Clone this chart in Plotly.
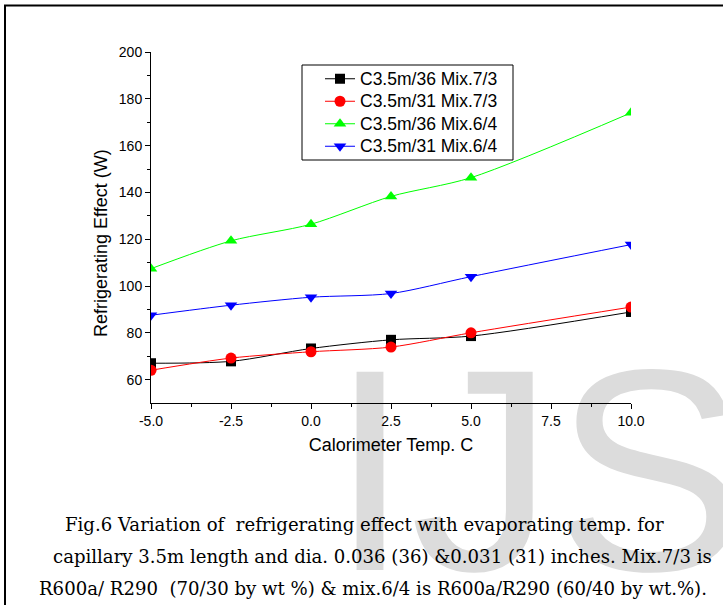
import plotly.graph_objects as go

# ---------------- data ----------------
temps = [-5.0, -2.5, 0.0, 2.5, 5.0, 10.0]
re_36_mix73 = [67.0, 67.8, 73.3, 77.0, 78.6, 88.9]
re_31_mix73 = [64.0, 69.2, 71.9, 73.9, 80.0, 91.0]
re_36_mix64 = [107.4, 119.3, 126.4, 138.3, 146.3, 174.0]
re_31_mix64 = [87.5, 91.8, 95.2, 96.8, 104.0, 117.7]

series_names = ["C3.5m/36 Mix.7/3", "C3.5m/31 Mix.7/3", "C3.5m/36 Mix.6/4", "C3.5m/31 Mix.6/4"]
series_values = [re_36_mix73, re_31_mix73, re_36_mix64, re_31_mix64]
series_colors = ["#000000", "#ff0000", "#00ff00", "#0000ff"]
series_symbols = ["square", "circle", "triangle-up", "triangle-down"]
series_marker_sizes = [10, 11, 11, 11]

x_tick_vals = [-5.0, -2.5, 0.0, 2.5, 5.0, 7.5, 10.0]
x_tick_labels = ["-5.0", "-2.5", "0.0", "2.5", "5.0", "7.5", "10.0"]
x_minor_vals = [-3.75, -1.25, 1.25, 3.75, 6.25, 8.75]
y_tick_vals = [60, 80, 100, 120, 140, 160, 180, 200]
y_tick_labels = ["60", "80", "100", "120", "140", "160", "180", "200"]
y_minor_vals = [70, 90, 110, 130, 150, 170, 190]

x_title = "Calorimeter Temp. C"
y_title = "Refrigerating Effect (W)"
caption_lines = [
    "Fig.6 Variation of \u00a0refrigerating effect with evaporating temp. for",
    "capillary 3.5m length and dia. 0.036 (36) &0.031 (31) inches. Mix.7/3 is",
    "R600a/ R290 \u00a0(70/30 by wt %) & mix.6/4 is R600a/R290 (60/40 by wt.%).",
]
watermark = "IJSER"

W, H = 723, 605
SANS = "Liberation Sans, Arial, sans-serif"
SERIF = "DejaVu Serif, serif"

fig = go.Figure()

# watermark on a full-page background subplot (drawn beneath the chart)
fig.add_trace(go.Scatter(
    x=[330 / W], y=[1 - 498 / H], mode="text", text=[watermark],
    textposition="middle right",
    textfont=dict(family=SANS, size=288, color="#dcdcdc"),
    xaxis="x", yaxis="y", showlegend=False, hoverinfo="skip", cliponaxis=False,
))

for name, vals, col, sym, ms in zip(series_names, series_values, series_colors,
                                     series_symbols, series_marker_sizes):
    fig.add_trace(go.Scatter(
        x=temps, y=vals, name="<span style='font-size:17.5px'>" + name + "</span>",
        mode="lines+markers",
        line=dict(color=col, width=1, shape="spline", smoothing=0.8),
        marker=dict(color=col, symbol=sym, size=ms, line=dict(width=0)),
        xaxis="x2", yaxis="y2", cliponaxis=True,
    ))

axis_common = dict(
    showline=True, linecolor="black", linewidth=1, showgrid=False, zeroline=False,
    ticks="outside", ticklen=5, tickwidth=1, tickcolor="black",
    tickfont=dict(family=SANS, size=14, color="black"),
)

fig.update_layout(
    width=W, height=H, autosize=False,
    margin=dict(l=0, r=0, t=0, b=0, autoexpand=False),
    paper_bgcolor="white", plot_bgcolor="rgba(0,0,0,0)",
    xaxis=dict(domain=[0, 1], range=[0, 1], visible=False, fixedrange=True),
    yaxis=dict(domain=[0, 1], range=[0, 1], visible=False, fixedrange=True),
    xaxis2=dict(
        domain=[151 / W, 631 / W], anchor="y2", range=[-5, 10],
        tickmode="array", tickvals=x_tick_vals, ticktext=x_tick_labels,
        minor=dict(tickmode="array", tickvals=x_minor_vals, ticks="outside", ticklen=3, tickcolor="black"),
        title=dict(text=x_title, font=dict(family=SANS, size=18, color="black"), standoff=10),
        automargin=False,
        **axis_common,
    ),
    yaxis2=dict(
        domain=[1 - 403 / H, 1 - 52 / H], anchor="x2", range=[50, 200],
        tickmode="array", tickvals=y_tick_vals, ticktext=y_tick_labels,
        minor=dict(tickmode="array", tickvals=y_minor_vals, ticks="outside", ticklen=3, tickcolor="black"),
        automargin=False,
        **axis_common,
    ),
    legend=dict(
        x=320 / W, y=1 - 62.5 / H, xanchor="left", yanchor="top",
        bgcolor="rgba(0,0,0,0)", borderwidth=0,
        font=dict(family=SANS, size=15, color="black"),
        tracegroupgap=0,
    ),
    showlegend=True,
)

# legend frame
fig.add_shape(type="rect", xref="paper", yref="paper",
              x0=302 / W, x1=513 / W, y0=1 - 160 / H, y1=1 - 65 / H,
              line=dict(color="black", width=1), fillcolor="white", layer="above")

# y-axis title
fig.add_annotation(
    text=y_title, textangle=-90, xref="paper", yref="paper",
    x=101 / W, y=1 - 243 / H, xanchor="center", yanchor="middle", showarrow=False,
    font=dict(family=SANS, size=18, color="black"),
)

# caption (left edges as in the reference)
caption_x = [63, 51, 37]
caption_y = [524, 556, 588]
for line, cx, cy in zip(caption_lines, caption_x, caption_y):
    fig.add_annotation(
        text=line, xref="paper", yref="paper", x=cx / W, y=1 - cy / H,
        xanchor="left", yanchor="middle", showarrow=False,
        font=dict(family=SERIF, size=18.1, color="black"),
    )

# page frame (top and left edges)
fig.add_shape(type="line", xref="paper", yref="paper", x0=4 / W, x1=1, y0=1 - 5.5 / H, y1=1 - 5.5 / H,
              line=dict(color="black", width=2))
fig.add_shape(type="line", xref="paper", yref="paper", x0=5 / W, x1=5 / W, y0=0, y1=1 - 5 / H,
              line=dict(color="black", width=2))

fig.write_html(
    "out.html",
    post_script="document.body.style.margin='0';document.documentElement.style.overflow='hidden';",
)
